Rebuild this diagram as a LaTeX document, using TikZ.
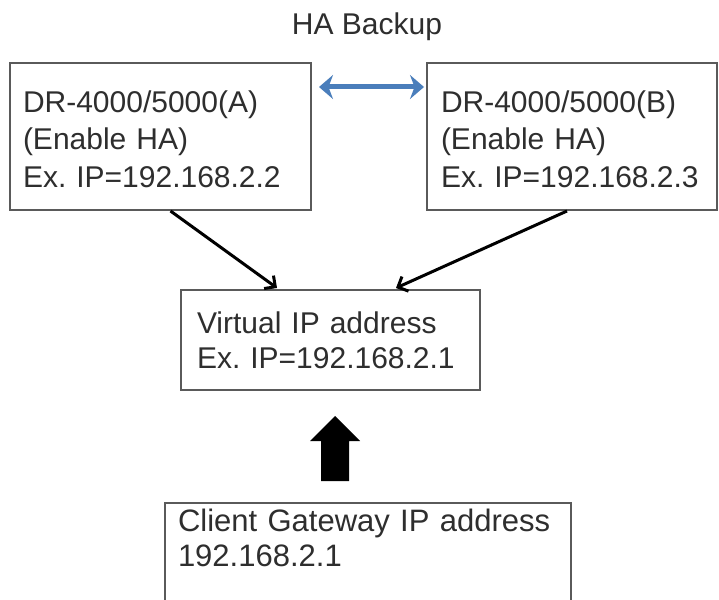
\documentclass[tikz,border=0pt]{standalone}
\usepackage{fontspec}
\setmainfont{Liberation Sans}
\frenchspacing
\usetikzlibrary{arrows.meta,calc}
\definecolor{txt}{HTML}{2E2E2E}
\definecolor{frame}{HTML}{5A5A5A}
\definecolor{habl}{HTML}{4A7EBB}
\tikzset{
  boxnode/.style={draw=frame, line width=2pt, align=left, text=txt, inner ysep=0pt,
    font=\fontsize{30}{37.5}\selectfont},
  link/.style={line width=3pt, -{Straight Barb[length=8pt,width=16pt,line width=3pt]}},
}
\begin{document}
\begin{tikzpicture}[x=1pt,y=-1pt]
\useasboundingbox (0,0) rectangle (719,599);
\clip (0,0) rectangle (719,599);
\fill[white] (0,0) rectangle (719,599);
\node[text=txt, font=\fontsize{30}{37}\selectfont] (ha) at (367,27) {HA Backup};
\node[boxnode, minimum width=301pt, minimum height=147pt, text width=275pt, inner xsep=12pt,
  text height=27pt] (boxA) at (160.5,136.5)
  {DR-4000/5000(A)\\(Enable HA)\\Ex. IP=192.168.2.2};
\node[boxnode, minimum width=290pt, minimum height=147pt, text width=262pt, inner xsep=13pt,
  text height=27pt] (boxB) at (572,136.5)
  {DR-4000/5000(B)\\(Enable HA)\\Ex. IP=192.168.2.3};
\node[boxnode, minimum width=299pt, minimum height=100pt, text width=267pt, inner xsep=15pt,
  font=\fontsize{30}{35}\selectfont] (virt) at (330.5,340)
  {Virtual IP address\\Ex. IP=192.168.2.1};
\node[boxnode, minimum width=406pt, minimum height=150pt, text width=380pt, inner xsep=12pt,
  font=\fontsize{31}{35}\selectfont] (client) at (368,578)
  {Client Gateway IP address\\192.168.2.1\\\strut\\\strut};
% HA backup double arrow
\draw[habl, line width=5pt, {Stealth[length=14pt,width=24pt]}-{Stealth[length=14pt,width=24pt]}]
  ($(boxA.north east)+(7,25)$) -- ($(boxB.north west)+(-2,25)$);
% connectors to virtual IP
\draw[link] ($(boxA.south)+(10,0)$) -- ($(virt.north west)+(97,-1)$);
\draw[link] ($(boxB.south)+(-5,0)$) -- ($(virt.north west)+(216,-1)$);
% thick up arrow from client to virtual
\coordinate (tip) at ($(virt.south west)+(155,25)$);
\fill[black] (tip) -- ++(25,25) -- ++(-11,0) -- ++(0,40) -- ++(-28,0) -- ++(0,-40) -- ++(-11,0) -- cycle;
\end{tikzpicture}
\end{document}
